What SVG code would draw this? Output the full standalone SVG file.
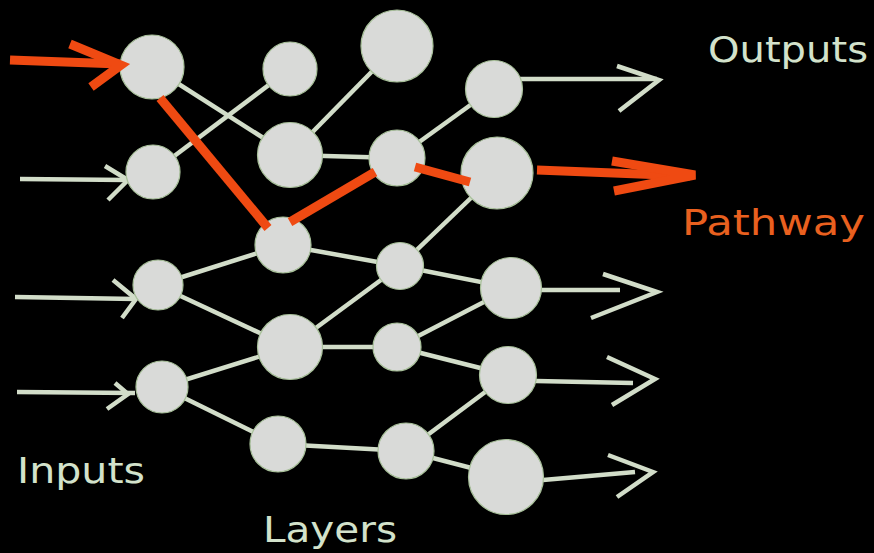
<svg xmlns="http://www.w3.org/2000/svg" width="874" height="553" viewBox="0 0 874 553">
  <style>
    .link { stroke: #d2ddc9; stroke-width: 4.5; fill: none; stroke-linecap: butt; }
    .arrow { stroke: #d2ddc9; stroke-width: 4.5; fill: none; stroke-linecap: butt; stroke-linejoin: miter; }
    .path { stroke: #ef4a12; stroke-width: 9; fill: none; stroke-linecap: butt; stroke-linejoin: miter; }
    .node circle { fill: #d9dad8; stroke: #a8c09a; stroke-width: 1.2; }
    .label { font-family: "DejaVu Sans", Verdana, sans-serif; font-size: 35px; fill: #d3e2cb; }
    .label.hot { fill: #e9601f; }
  </style>
  <rect width="874" height="553" fill="#000"/>

  <!-- network links -->
  <g id="connectors">
    <line class="link" x1="152" y1="67" x2="290" y2="155"/>
    <line class="link" x1="153" y1="172" x2="290" y2="69"/>
    <line class="link" x1="290" y1="155" x2="397" y2="46"/>
    <line class="link" x1="290" y1="155" x2="397" y2="158"/>
    <line class="link" x1="397" y1="158" x2="494" y2="88"/>
    <line class="link" x1="497" y1="173" x2="400" y2="266"/>
    <line class="link" x1="283" y1="245" x2="400" y2="266"/>
    <line class="link" x1="157" y1="285" x2="283" y2="245"/>
    <line class="link" x1="157" y1="285" x2="290" y2="347"/>
    <line class="link" x1="162" y1="387" x2="290" y2="347"/>
    <line class="link" x1="162" y1="387" x2="278" y2="444"/>
    <line class="link" x1="290" y1="347" x2="400" y2="266"/>
    <line class="link" x1="290" y1="347" x2="397" y2="347"/>
    <line class="link" x1="400" y1="266" x2="511" y2="288"/>
    <line class="link" x1="397" y1="347" x2="511" y2="288"/>
    <line class="link" x1="397" y1="347" x2="508" y2="375"/>
    <line class="link" x1="278" y1="444" x2="406" y2="451"/>
    <line class="link" x1="406" y1="451" x2="508" y2="375"/>
    <line class="link" x1="406" y1="451" x2="506" y2="477"/>

    <!-- input arrows -->
    <line class="arrow" x1="20" y1="179" x2="128" y2="180"/>
    <polyline class="arrow" points="105,166 128,180 108,200"/>
    <line class="arrow" x1="15" y1="297" x2="136" y2="299"/>
    <polyline class="arrow" points="113,280 136,299 122,318"/>
    <line class="arrow" x1="17" y1="392" x2="135" y2="393"/>
    <polyline class="arrow" points="115,383 128,394 107,409"/>

    <!-- output arrows -->
    <line class="arrow" x1="520" y1="79" x2="657" y2="79"/>
    <polyline class="arrow" points="617,66 659,80 619,111"/>
    <line class="arrow" x1="540" y1="290" x2="620" y2="290"/>
    <polyline class="arrow" points="603,274 657,292 591,318"/>
    <line class="arrow" x1="536" y1="381" x2="633" y2="383"/>
    <polyline class="arrow" points="607,357 655,379 612,405"/>
    <line class="arrow" x1="543" y1="480" x2="635" y2="472"/>
    <polyline class="arrow" points="608,455 653,472 617,497"/>
  </g>

  <!-- neurons -->
  <g id="in1" class="node"><circle cx="152" cy="67" r="32"/></g>
  <g id="in2" class="node"><circle cx="153" cy="172" r="27"/></g>
  <g id="in3" class="node"><circle cx="158" cy="285" r="25"/></g>
  <g id="in4" class="node"><circle cx="162" cy="387" r="26"/></g>

  <g id="h1a" class="node"><circle cx="290" cy="69" r="27"/></g>
  <g id="h1b" class="node"><circle cx="290" cy="155" r="32.5"/></g>
  <g id="h1c" class="node"><circle cx="283" cy="245" r="28"/></g>
  <g id="h1d" class="node"><circle cx="290" cy="347" r="32.5"/></g>
  <g id="h1e" class="node"><circle cx="278" cy="444" r="28"/></g>

  <g id="h2a" class="node"><circle cx="397" cy="46" r="36"/></g>
  <g id="h2b" class="node"><circle cx="397" cy="158" r="28"/></g>
  <g id="h2c" class="node"><circle cx="400" cy="266" r="23.5"/></g>
  <g id="h2d" class="node"><circle cx="397" cy="347" r="24"/></g>
  <g id="h2e" class="node"><circle cx="406" cy="451" r="28"/></g>

  <g id="out1" class="node"><circle cx="494" cy="89" r="28.5"/></g>
  <g id="out2" class="node"><circle cx="497" cy="173" r="36"/></g>
  <g id="out3" class="node"><circle cx="511" cy="288" r="30.5"/></g>
  <g id="out4" class="node"><circle cx="508" cy="375" r="28.5"/></g>
  <g id="out5" class="node"><circle cx="506" cy="477" r="37.5"/></g>

  <!-- highlighted route through the net -->
  <g id="pathway">
    <line class="path" x1="10" y1="60" x2="120" y2="64"/>
    <polyline class="path" points="70,44 121,65 91,87" stroke-width="10"/>
    <line class="path" x1="160" y1="98" x2="268" y2="228"/>
    <line class="path" x1="290" y1="222" x2="375" y2="172"/>
    <line class="path" x1="415" y1="167" x2="470" y2="182"/>
    <line class="path" x1="537" y1="170" x2="690" y2="176"/>
    <polyline class="path" points="612,161 695,175 614,191"/>
  </g>

  <!-- captions -->
  <text class="label" x="708" y="62" textLength="160" lengthAdjust="spacingAndGlyphs">Outputs</text>
  <text class="label hot" x="682" y="235" textLength="183" lengthAdjust="spacingAndGlyphs">Pathway</text>
  <text class="label" x="17" y="483" textLength="128" lengthAdjust="spacingAndGlyphs">Inputs</text>
  <text class="label" x="263" y="542" textLength="134" lengthAdjust="spacingAndGlyphs">Layers</text>
</svg>
